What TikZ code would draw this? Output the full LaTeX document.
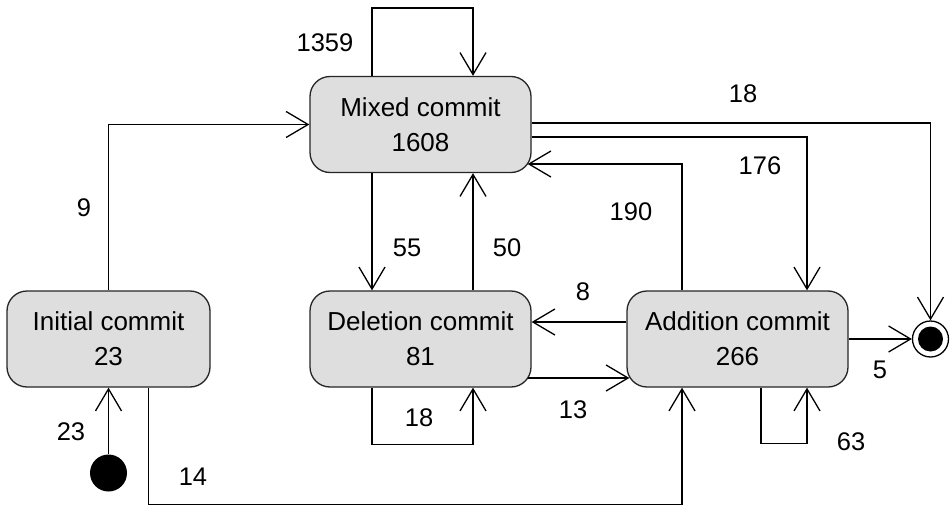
\documentclass[tikz,border=0pt]{standalone}
\usepackage{fontspec}
\setmainfont{Liberation Sans}
\usetikzlibrary{arrows.meta}

\tikzset{
  state/.style={draw=black!85, line width=1.3pt, fill=black!13, rounded corners=20pt,
    inner sep=0pt, minimum height=96pt, align=center,
    font=\fontsize{26}{35}\selectfont},
  arr/.style={line width=1.3pt, -{Straight Barb[length=22pt,width=26pt,line width=1.3pt]}},
  line/.style={line width=1.3pt},
  lbl/.style={inner sep=0pt, font=\fontsize{25.5}{30}\selectfont},
}

\begin{document}
\begin{tikzpicture}[x=1pt, y=-1pt]
  \useasboundingbox (0,0) rectangle (951,506);

  % states
  \node[state, minimum width=221pt] (mixed)    at (420.5,124.5) {Mixed commit\\1608};
  \node[state, minimum width=203pt] (initial)  at (108.5,339)   {Initial commit\\23};
  \node[state, minimum width=221pt] (deletion) at (420.5,339)   {Deletion commit\\81};
  \node[state, minimum width=221pt] (addition) at (737.5,339)   {Addition commit\\266};

  % pseudo states
  \node[circle, fill=black, minimum size=37pt, inner sep=0pt] (start) at (108.5,473) {};
  \node[circle, draw=black, line width=1.3pt, fill=white, minimum size=36pt, inner sep=0pt] (final) at (930.5,339) {};
  \fill (final) circle (12.5pt);

  % transitions
  \draw[arr] (start) -- (initial.south);
  \draw[arr] (initial.north) |- (mixed.west);
  \draw[arr] ([xshift=40pt]initial.south) -- ++(0,117) -| ([xshift=-55.5pt]addition.south);

  \draw[arr] ([xshift=-48.5pt]mixed.north) -- ++(0,-68) -| ([xshift=52.5pt]mixed.north);
  \draw[arr] ([xshift=-48.5pt]mixed.south) -- ([xshift=-48.5pt]deletion.north);
  \draw[arr] ([xshift=52.5pt]deletion.north) -- ([xshift=52.5pt]mixed.south);
  \draw[arr] ([xshift=-48.5pt]deletion.south) -- ++(0,57) -| ([xshift=52.5pt]deletion.south);

  \draw[arr] ([yshift=17pt]addition.west) -- ([yshift=17pt]deletion.east);
  \draw[arr] ([xshift=-4pt,yshift=-39pt]deletion.east) -- ([xshift=3pt,yshift=-39pt]addition.west);

  \draw[arr] ([xshift=-55.5pt]addition.north) |- ([xshift=-4pt,yshift=-39.5pt]mixed.east);
  \draw[arr] ([yshift=-12.5pt]mixed.east) -| ([xshift=69.5pt]addition.north);
  \draw[arr] ([yshift=1.5pt]mixed.east) -| (final.north);

  \draw[arr] ([xshift=23.5pt]addition.south) -- ++(0,56) -| ([xshift=69.5pt]addition.south);
  \draw[arr] (addition.east) -- (final.west);

  % transition counts
  \node[lbl] (l1359) at (325,43)  {1359};
  \node[lbl] (l9)    at (84,208)  {9};
  \node[lbl] (l23)   at (71,432)  {23};
  \node[lbl] (l14)   at (193,477) {14};
  \node[lbl] (l55)   at (407,248) {55};
  \node[lbl] (l50)   at (507,248) {50};
  \node[lbl] (l8)    at (583,292) {8};
  \node[lbl] (l13)   at (573,410) {13};
  \node[lbl] (l18d)  at (419,418) {18};
  \node[lbl] (l18m)  at (743,94)  {18};
  \node[lbl] (l176)  at (760,166) {176};
  \node[lbl] (l190)  at (631,212) {190};
  \node[lbl] (l5)    at (880,370) {5};
  \node[lbl] (l63)   at (851,442) {63};
\end{tikzpicture}
\end{document}
